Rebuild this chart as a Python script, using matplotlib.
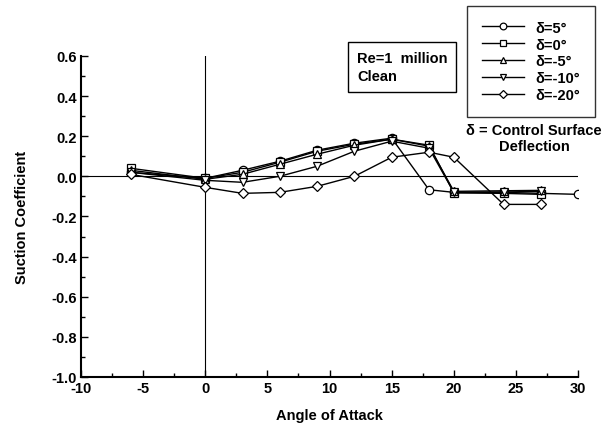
import matplotlib
matplotlib.use("Agg")
import matplotlib.pyplot as plt

plt.rcParams['font.family'] = ['Liberation Sans', 'DejaVu Sans']
plt.rcParams['font.weight'] = 'bold'
plt.rcParams['axes.unicode_minus'] = False

alpha = [-6, 0, 3, 6, 9, 12, 15, 18, 20, 24, 27, 30]
alpha_short = [-6, 0, 3, 6, 9, 12, 15, 18, 20, 24, 27]

d_p5 = [0.02, -0.01, 0.03, 0.075, 0.13, 0.165, 0.19, -0.067, -0.08, -0.08, -0.085, -0.09]
d_0 = [0.04, -0.01, 0.02, 0.07, 0.125, 0.16, 0.185, 0.155, -0.083, -0.085, -0.09]
d_m5 = [0.03, -0.015, 0.01, 0.06, 0.11, 0.155, 0.185, 0.15, -0.075, -0.072, -0.07]
d_m10 = [0.02, -0.02, -0.03, 0.0, 0.05, 0.125, 0.175, 0.14, -0.08, -0.078, -0.075]
d_m20 = [0.01, -0.055, -0.085, -0.08, -0.05, 0.0, 0.095, 0.12, 0.095, -0.14, -0.14]

labels = ["δ=5°", "δ=0°", "δ=-5°", "δ=-10°", "δ=-20°"]
markers = ['o', 's', '^', 'v', 'D']

FS = 10.5

fig = plt.figure(figsize=(6.08, 4.31), dpi=100)
ax = fig.add_axes([0.133, 0.123, 0.818, 0.745])

series = [(alpha, d_p5), (alpha_short, d_0), (alpha_short, d_m5),
          (alpha_short, d_m10), (alpha_short, d_m20)]
for (x, y), lab, m in zip(series, labels, markers):
    ms = 6 if m != 'D' else 5.5
    ax.plot(x, y, color='black', lw=1.0, marker=m, ms=ms,
            mfc='white', mec='black', mew=0.9, label=lab)

ax.axhline(0, color='black', lw=0.8, zorder=0)
ax.axvline(0, color='black', lw=0.8, zorder=0)

ax.set_xlim(-10, 30)
ax.set_ylim(-1.0, 0.6)
ax.set_xticks(range(-10, 31, 5))
ax.set_xticks([x + 2.5 for x in range(-10, 30, 5)], minor=True)
ax.set_yticks([-1.0, -0.8, -0.6, -0.4, -0.2, 0.0, 0.2, 0.4, 0.6])
ax.set_yticks([-0.9, -0.7, -0.5, -0.3, -0.1, 0.1, 0.3, 0.5], minor=True)
ax.set_yticklabels(["-1.0", "-0.8", "-0.6", "-0.4", "-0.2", "0.0", "0.2", "0.4", "0.6"])
ax.tick_params(which='both', direction='in', width=1, labelsize=FS)
ax.tick_params(which='major', length=5, pad=3)
ax.tick_params(which='minor', length=3)
for lab in ax.get_xticklabels() + ax.get_yticklabels():
    lab.set_fontweight('bold')
ax.spines['top'].set_visible(False)
ax.spines['right'].set_visible(False)
ax.spines['left'].set_linewidth(1.5)
ax.spines['bottom'].set_linewidth(1.5)

ax.set_xlabel("Angle of Attack", fontsize=FS, fontweight='bold', labelpad=9)
ax.set_ylabel("Suction Coefficient", fontsize=FS, fontweight='bold', labelpad=16)

leg = ax.legend(loc='upper left', bbox_to_anchor=(467 / 608, 1 - 7 / 431),
                bbox_transform=fig.transFigure, borderaxespad=0,
                frameon=True, fancybox=False, edgecolor='black', fontsize=FS,
                handlelength=2.9, labelspacing=0.2, borderpad=1.0, handletextpad=0.8,
                markerscale=0.8)
leg.get_frame().set_linewidth(1.0)
for t in leg.get_texts():
    t.set_fontweight('bold')

fig.text(357 / 608, 1 - 68 / 431, "Re=1  million\nClean", fontsize=FS, fontweight='bold',
         va='center', ha='left', linespacing=1.45,
         bbox=dict(boxstyle='square,pad=0.6', fc='white', ec='black', lw=1.0))

fig.text(534 / 608, 1 - 139 / 431, "δ = Control Surface\nDeflection", fontsize=FS,
         fontweight='bold', ha='center', va='center', linespacing=1.1)

fig.savefig("out.png", dpi=100)
